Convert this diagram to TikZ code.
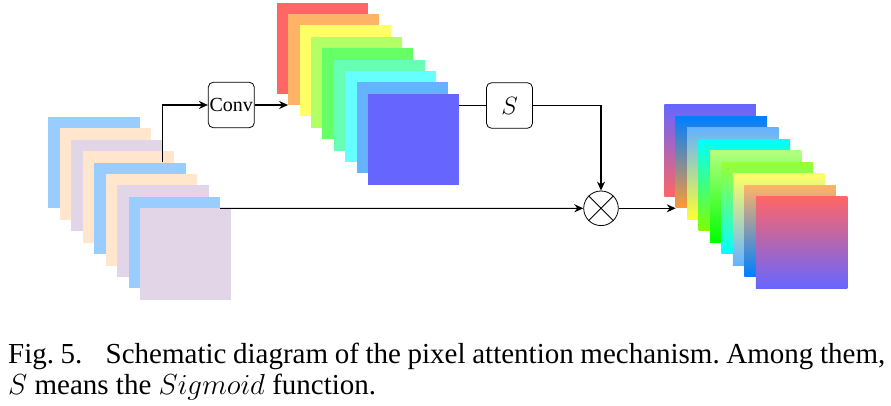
\documentclass[tikz,border=0pt]{standalone}
\usepackage{fix-cm}
\usepackage{fontspec}
\setmainfont{Liberation Serif}
\usetikzlibrary{arrows.meta}
\definecolor{cblue}{HTML}{99CCFF}
\definecolor{cpeach}{HTML}{FFE6CC}
\definecolor{clilac}{HTML}{E1D5E7}
\definecolor{m1}{HTML}{FF6666}
\definecolor{m2}{HTML}{FFB366}
\definecolor{m3}{HTML}{FFFF66}
\definecolor{m4}{HTML}{B3FF66}
\definecolor{m5}{HTML}{66FF66}
\definecolor{m6}{HTML}{66FFB3}
\definecolor{m7}{HTML}{66FFFF}
\definecolor{m8}{HTML}{66B2FF}
\definecolor{m9}{HTML}{6666FF}
\tikzset{
  sq/.style={minimum width=91.5pt,minimum height=91.5pt,inner sep=0pt,outer sep=0pt,draw=none,anchor=north west},
  box/.style={draw,rounded corners=5pt,minimum width=46pt,minimum height=45.5pt,inner sep=0pt,line width=0.8pt,font=\fontsize{20}{22}\selectfont},
  conn/.style={line width=1.1pt,-{Stealth[length=9pt,width=8pt]}},
  line/.style={line width=1.1pt},
}
\begin{document}
\begin{tikzpicture}[x=1pt,y=-1pt]
\useasboundingbox (0,0) rectangle (891,406);
% left stack
\foreach \c [count=\i] in {cblue,cpeach,clilac,cpeach,cblue,cpeach,clilac,cblue,clilac}{
  \node[sq,fill=\c] (L\i) at ({48.3+(\i-1)*11.46},{116.7+(\i-1)*11.46}) {};
}
% middle stack
\foreach \c [count=\i] in {m1,m2,m3,m4,m5,m6,m7,m8,m9}{
  \node[sq,fill=\c,minimum width=91pt,minimum height=91pt] (M\i) at ({276.7+(\i-1)*11.4},{2.7+(\i-1)*11.4}) {};
}
% right stack (gradients)
\foreach \t/\b [count=\i] in {6666FF/FF6666,007FFF/FF9933,66B2FF/FFFF33,00FFFF/80FF00,B3FF80/00FF00,99FF33/00FFFF,FFFF66/66B2FF,FFB366/007FFF,FF6666/6666FF}{
  \definecolor{tc}{HTML}{\t}\definecolor{bc}{HTML}{\b}
  \node[sq,top color=tc,bottom color=bc] (R\i) at ({664.3+(\i-1)*11.43},{105+(\i-1)*11.45}) {};
}
% boxes
\node[box] (conv) at (231.3,105) {Conv};
\node[box,font=\fontsize{25}{27}\selectfont] (S) at (509.5,105.5) {$S$};
\node[circle,draw,line width=0.8pt,minimum size=34.6pt,inner sep=0pt] (m) at (601,208.3) {};
\draw[line width=0.8pt] (m.north west) -- (m.south east) (m.north east) -- (m.south west);
% connectors
\coordinate (sp) at (162.7,162.5);
\draw[conn] (sp) |- (conv.west);
\draw[conn] (conv.east) -- (conv.east -| M2.west);
\draw[line] (S.west -| M9.east) -- (S.west);
\draw[conn] (S.east) -| (m.north);
\draw[conn] (L9.north -| L8.east) -- (m.west);
\draw[conn] (m.east) -- (m.east -| R2.west);
% caption
\node[anchor=base west,text width=877pt,align=justify,inner sep=0pt,font=\fontsize{29}{31}\selectfont\frenchspacing] (cap) at (8,363)
 {Fig.~5.\hspace{0.8em}Schematic diagram of the pixel attention mechanism. Among them,\linebreak $S$ means the $Sigmoid$ function.};
\end{tikzpicture}
\end{document}
